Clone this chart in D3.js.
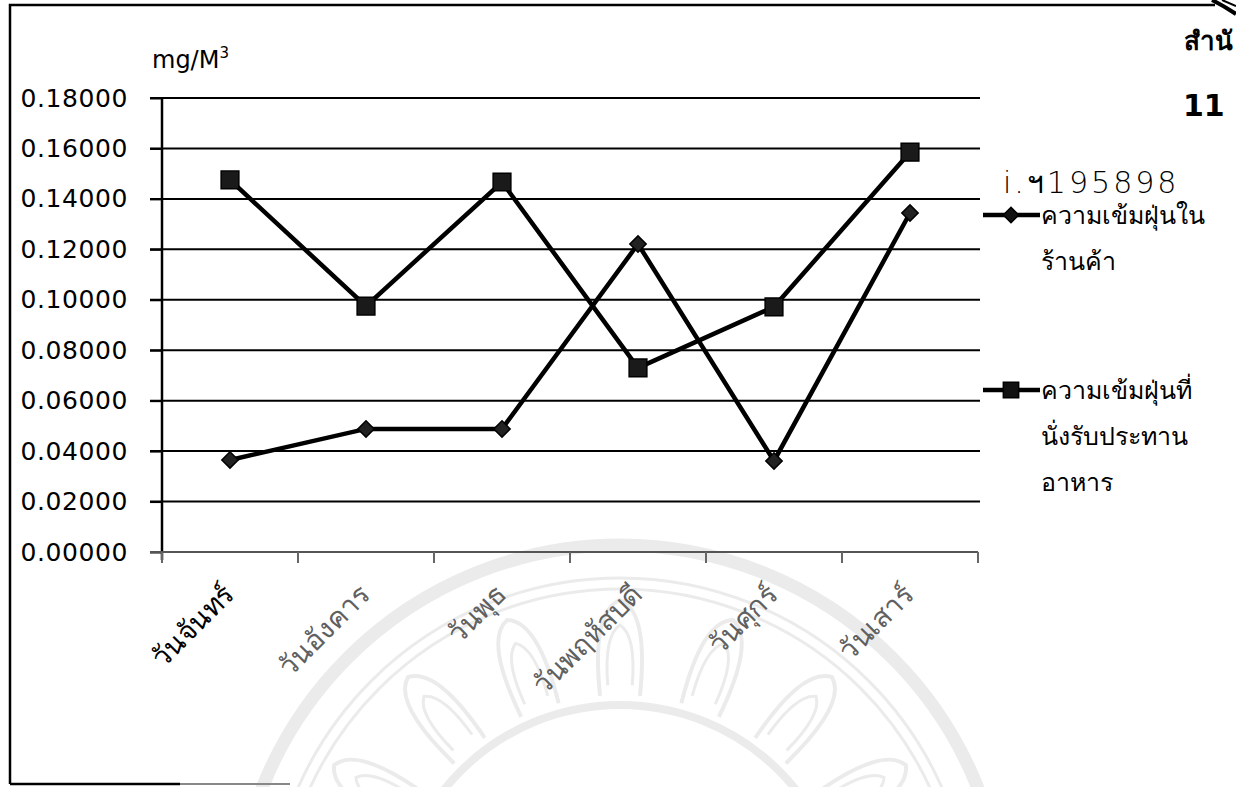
<!DOCTYPE html>
<html>
<head>
<meta charset="utf-8">
<script src="https://cdn.jsdelivr.net/npm/d3@7"></script>
<style>
  html, body { margin: 0; padding: 0; background: #fff; }
  svg { display: block; }
  text { font-family: "DejaVu Sans", "Noto Sans", sans-serif; }
</style>
</head>
<body>
<svg id="chart" width="1236" height="787"></svg>
<script>
// Dust concentration per day (mg/M3)
const days = ["วันจันทร์", "วันอังคาร", "วันพุธ", "วันพฤหัสบดี", "วันศุกร์", "วันเสาร์"];
const shopDust = [0.0365, 0.0488, 0.0488, 0.1221, 0.0361, 0.1344];
const diningDust = [0.1475, 0.0975, 0.1467, 0.0730, 0.0972, 0.1585];
const yTicks = [0, 0.02, 0.04, 0.06, 0.08, 0.10, 0.12, 0.14, 0.16, 0.18];
const seriesNames = [
  ["ความเข้มฝุ่นใน", "ร้านค้า"],
  ["ความเข้มฝุ่นที่", "นั่งรับประทาน", "อาหาร"]
];

const svg = d3.select("#chart");
const plot = { left: 162, right: 978, top: 98, bottom: 552 };

const x = d3.scaleBand().domain(days).range([plot.left, plot.right]);
const y = d3.scaleLinear().domain([0, 0.18]).range([plot.bottom, plot.top]);

// faint seal in the page background
const seal = svg.append("g").attr("fill", "none").attr("stroke", "#ebebeb");
const sc = { x: 620, y: 930 };
seal.append("circle").attr("cx", sc.x).attr("cy", sc.y).attr("r", 385).attr("stroke-width", 13);
seal.append("circle").attr("cx", sc.x).attr("cy", sc.y).attr("r", 352).attr("stroke-width", 3);
seal.append("circle").attr("cx", sc.x).attr("cy", sc.y).attr("r", 341).attr("stroke-width", 3);
seal.append("circle").attr("cx", sc.x).attr("cy", sc.y).attr("r", 225).attr("stroke-width", 8);
// lotus petals between the rings
d3.range(-80, 81, 20).forEach(a => {
  const rad = (a - 90) * Math.PI / 180;
  const pt = (r, off) => {
    const rr = rad + off;
    return [sc.x + r * Math.cos(rr), sc.y + r * Math.sin(rr)];
  };
  const petal = (r0, r1, rc, w, wc) => {
    const b1 = pt(r0, -w), b2 = pt(r0, w), tip = pt(r1, 0);
    const c1 = pt(rc, -wc), c2 = pt(rc, wc);
    const p = d3.path();
    p.moveTo(b1[0], b1[1]);
    p.quadraticCurveTo(c1[0], c1[1], tip[0], tip[1]);
    p.quadraticCurveTo(c2[0], c2[1], b2[0], b2[1]);
    return p.toString();
  };
  seal.append("path").attr("d", petal(235, 330, 320, 0.085, 0.09)).attr("stroke-width", 4);
  seal.append("path").attr("d", petal(245, 305, 295, 0.05, 0.055)).attr("stroke-width", 3);
});

// page frame
svg.append("path")
  .attr("d", "M10,784 L10,5 L1215,5")
  .attr("fill", "none").attr("stroke", "#000").attr("stroke-width", 2.5);
svg.append("line").attr("x1", 10).attr("x2", 180).attr("y1", 784).attr("y2", 784)
  .attr("stroke", "#000").attr("stroke-width", 2.5);
svg.append("line").attr("x1", 180).attr("x2", 290).attr("y1", 784).attr("y2", 784)
  .attr("stroke", "#888").attr("stroke-width", 2);
svg.append("path").attr("d", "M1212,0 Q1224,6 1236,14").attr("fill", "none")
  .attr("stroke", "#000").attr("stroke-width", 4);
svg.append("path").attr("d", "M1222,0 Q1229,3 1236,6").attr("fill", "none")
  .attr("stroke", "#000").attr("stroke-width", 2);

// horizontal gridlines
svg.append("g").selectAll("line").data(yTicks.slice(1)).join("line")
  .attr("x1", 150).attr("x2", plot.right + 2)
  .attr("y1", d => y(d)).attr("y2", d => y(d))
  .attr("stroke", "#000").attr("stroke-width", 2);

// y axis
const yAxis = svg.append("g").attr("transform", `translate(${plot.left},0)`)
  .call(d3.axisLeft(y).tickValues(yTicks).tickFormat(d3.format(".5f")).tickSize(12).tickPadding(10));
yAxis.select(".domain").attr("stroke", "#000").attr("stroke-width", 2.5)
  .attr("d", `M0,${plot.top}V${plot.bottom + 8}`);
yAxis.selectAll(".tick line").attr("stroke", "#000").attr("stroke-width", 2);
yAxis.selectAll(".tick text").attr("font-size", 25).attr("fill", "#000")
  .attr("letter-spacing", 0.6)
  .attr("font-family", "'DejaVu Sans', sans-serif").attr("x", -34);

// x axis with ticks between categories
const xAxis = svg.append("g").attr("transform", `translate(0,${plot.bottom})`);
xAxis.append("line").attr("x1", 150).attr("x2", plot.right).attr("y1", 0).attr("y2", 0)
  .attr("stroke", "#555").attr("stroke-width", 2);
const bounds = days.map(d => x(d)).concat([plot.right]);
xAxis.selectAll("line.tk").data(bounds).join("line").attr("class", "tk")
  .attr("x1", d => d).attr("x2", d => d).attr("y1", 0).attr("y2", 11)
  .attr("stroke", "#666").attr("stroke-width", 2);
xAxis.selectAll("text").data(days).join("text")
  .attr("transform", d => `translate(${x(d) + x.bandwidth() / 2 + 6},${44}) rotate(-45)`)
  .attr("text-anchor", "end")
  .attr("font-size", 28)
  .attr("fill", (d, i) => i === 0 ? "#000" : "#606060")
  .text(d => d);

// y unit
svg.append("text").attr("x", 152).attr("y", 68).attr("font-size", 24).attr("fill", "#000")
  .text("mg/M").append("tspan").attr("font-size", 15).attr("dy", -10).text("3");

// series lines
const cx = i => x(days[i]) + x.bandwidth() / 2;
const line = d3.line().x((d, i) => cx(i)).y(d => y(d));
svg.append("path").datum(diningDust).attr("d", line)
  .attr("fill", "none").attr("stroke", "#000").attr("stroke-width", 4.5);
svg.append("path").datum(shopDust).attr("d", line)
  .attr("fill", "none").attr("stroke", "#000").attr("stroke-width", 4.5);

svg.append("g").selectAll("path").data(shopDust).join("path")
  .attr("transform", (d, i) => `translate(${cx(i)},${y(d)}) rotate(45)`)
  .attr("d", d3.symbol().type(d3.symbolSquare2).size(170))
  .attr("fill", "#222").attr("stroke", "#000").attr("stroke-width", 1.5);
svg.append("g").selectAll("path").data(diningDust).join("path")
  .attr("transform", (d, i) => `translate(${cx(i)},${y(d)})`)
  .attr("d", d3.symbol().type(d3.symbolSquare2).size(400))
  .attr("fill", "#1a1a1a").attr("stroke", "#000").attr("stroke-width", 1.5);

// legend
const legend = svg.append("g");
const legendRows = [
  { y: 215, symbol: "diamond", lines: seriesNames[0] },
  { y: 390, symbol: "square", lines: seriesNames[1] }
];
legendRows.forEach(r => {
  legend.append("line").attr("x1", 983).attr("x2", 1040).attr("y1", r.y).attr("y2", r.y)
    .attr("stroke", "#000").attr("stroke-width", 4.5);
  legend.append("path")
    .attr("transform", `translate(1011,${r.y})${r.symbol === "diamond" ? " rotate(45)" : ""}`)
    .attr("d", d3.symbol().type(d3.symbolSquare2).size(r.symbol === "diamond" ? 150 : 300))
    .attr("fill", "#111").attr("stroke", "#000").attr("stroke-width", 1.5);
  r.lines.forEach((t, k) => {
    legend.append("text").attr("x", 1041).attr("y", r.y + 9 + k * 46)
      .attr("font-size", 25).attr("fill", "#000").text(t);
  });
});

// page margin notes
svg.append("text").attr("x", 1184).attr("y", 50).attr("font-size", 26)
  .attr("font-weight", "bold").attr("fill", "#000").text("สำนั");
svg.append("text").attr("x", 1183).attr("y", 116).attr("font-size", 30)
  .attr("font-weight", "bold").attr("fill", "#000").text("11");
svg.append("text").attr("x", 1003).attr("y", 193).attr("font-size", 30)
  .attr("font-weight", 200).attr("font-family", "'DejaVu Sans', sans-serif")
  .attr("fill", "#000").attr("letter-spacing", 3).text("i.ฯ195898");
</script>
</body>
</html>
